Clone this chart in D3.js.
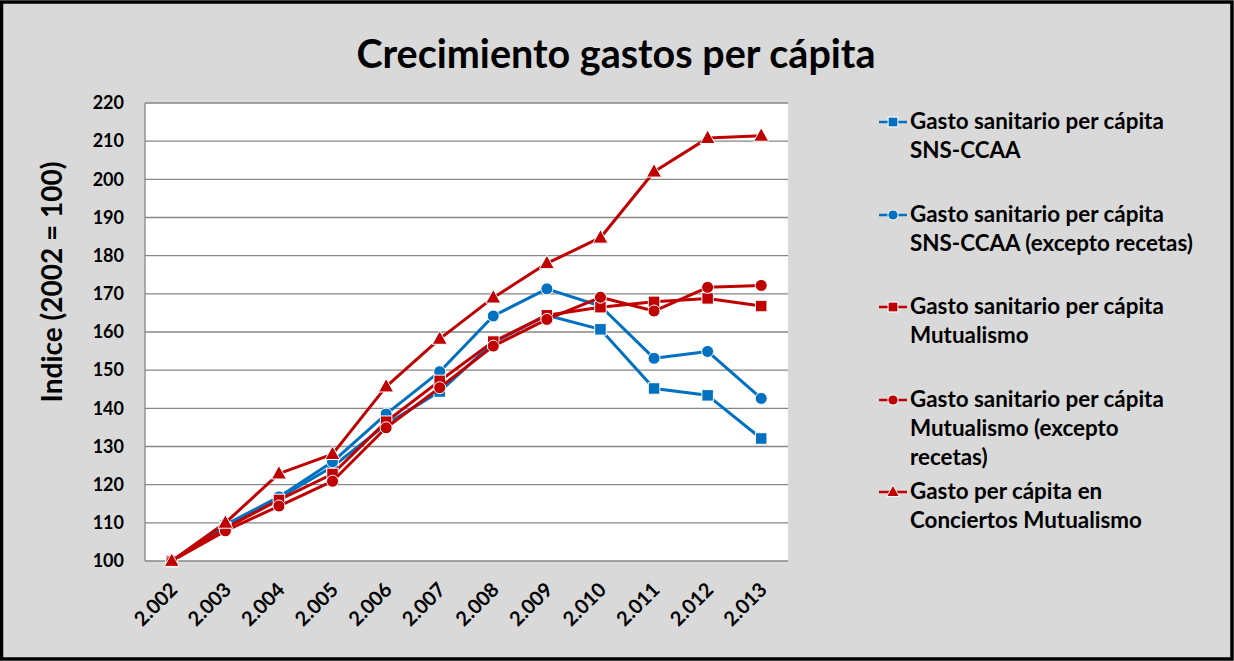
<!DOCTYPE html>
<html><head><meta charset="utf-8">
<script src="https://cdn.jsdelivr.net/npm/d3@7"></script>
<style>html,body{margin:0;padding:0;background:#fff;}svg{display:block;}</style>
</head><body>
<script>
const years = ["2.002","2.003","2.004","2.005","2.006","2.007","2.008","2.009","2.010","2.011","2.012","2.013"];
const snsCcaa       = [100,109.3,116.5,124.7,135.8,144.4,157.2,164.4,160.7,145.2,143.4,132.1];
const snsCcaaSinRec = [100,109.5,116.8,126.0,138.5,149.6,164.2,171.3,166.8,153.1,154.9,142.6];
const mutualismo    = [100,108.6,116.0,122.8,136.5,147.2,157.5,164.4,166.5,167.9,168.8,166.8];
const mutualSinRec  = [100,107.9,114.4,120.9,134.9,145.4,156.3,163.3,169.1,165.5,171.7,172.2];
const conciertos    = [100,110.0,122.9,128.0,145.7,158.2,169.0,178.0,184.7,202.0,210.8,211.4];
const yTicks = [100,110,120,130,140,150,160,170,180,190,200,210,220];
const seriesNames = [
  ["Gasto sanitario per cápita","SNS-CCAA"],
  ["Gasto sanitario per cápita","SNS-CCAA (excepto recetas)"],
  ["Gasto sanitario per cápita","Mutualismo"],
  ["Gasto sanitario per cápita","Mutualismo (excepto","recetas)"],
  ["Gasto per cápita en","Conciertos Mutualismo"]
];
const series = [
  {name: seriesNames[0], values: snsCcaa, color:"#0070C0", shape:"square"},
  {name: seriesNames[1], values: snsCcaaSinRec, color:"#0070C0", shape:"circle"},
  {name: seriesNames[2], values: mutualismo, color:"#C00000", shape:"square"},
  {name: seriesNames[3], values: mutualSinRec, color:"#C00000", shape:"circle"},
  {name: seriesNames[4], values: conciertos, color:"#C00000", shape:"triangle"}
];

const W=1234,H=661;
const FONT="Lato, 'Open Sans', sans-serif";
const svg=d3.select("body").append("svg").attr("width",W).attr("height",H);
svg.append("rect").attr("x",1.5).attr("y",2).attr("width",W-3.5).attr("height",H-4)
  .attr("fill","#D9D9D9").attr("stroke","#000").attr("stroke-width",3.5);

const plot={l:145,r:788,t:103,b:561};
const x=d3.scaleBand().domain(years).range([plot.l,plot.r]);
const y=d3.scaleLinear().domain([100,220]).range([plot.b,plot.t]);

svg.append("rect").attr("x",plot.l).attr("y",plot.t).attr("width",plot.r-plot.l).attr("height",plot.b-plot.t).attr("fill","#fff");

// gridlines
svg.append("g").selectAll("line").data(yTicks).join("line")
  .attr("x1",plot.l).attr("x2",plot.r).attr("y1",d=>y(d)).attr("y2",d=>y(d))
  .attr("stroke","#868686").attr("stroke-width",1.3);
svg.append("line").attr("x1",plot.l).attr("x2",plot.l).attr("y1",plot.t).attr("y2",plot.b)
  .attr("stroke","#868686").attr("stroke-width",1.3);

// y axis
const yAxis=svg.append("g").attr("transform",`translate(${plot.l},0)`)
  .call(d3.axisLeft(y).tickValues(yTicks).tickSize(0).tickPadding(21));
yAxis.select(".domain").remove();
yAxis.selectAll("text").attr("font-family",FONT).attr("font-weight","bold").attr("font-size",18).attr("fill","#000");

// x axis
const xAxis=svg.append("g").attr("transform",`translate(0,${plot.b})`)
  .call(d3.axisBottom(x).tickSize(0));
xAxis.select(".domain").remove();
xAxis.selectAll("text").attr("font-family",FONT).attr("font-weight","bold").attr("font-size",20).attr("fill","#000")
  .attr("text-anchor","end").attr("dy",0).attr("y",0)
  .attr("transform","translate(7,30) rotate(-45)");

// title
svg.append("text").attr("x",616).attr("y",68).attr("text-anchor","middle")
  .attr("font-family",FONT).attr("font-weight","bold").attr("font-size",39.5).attr("fill","#000")
  .text("Crecimiento gastos per cápita");
// y title
svg.append("text").attr("transform","translate(62,282) rotate(-90)").attr("text-anchor","middle")
  .attr("font-family",FONT).attr("font-weight","bold").attr("font-size",28).attr("fill","#000")
  .text("Indice (2002 = 100)");

function drawMarker(g, shape, cx, cy, color, scale){
  scale=scale||1;
  if(shape==="square"){
    const s=11.5*scale;
    g.append("rect").attr("x",cx-s/2).attr("y",cy-s/2).attr("width",s).attr("height",s)
     .attr("fill",color).attr("stroke","#fff").attr("stroke-width",1);
  } else if(shape==="circle"){
    g.append("circle").attr("cx",cx).attr("cy",cy).attr("r",6*scale)
     .attr("fill",color).attr("stroke","#fff").attr("stroke-width",1);
  } else {
    const w=15*scale, h=13.5*scale;
    g.append("path").attr("d",`M${cx},${cy-h*0.6}L${cx+w/2},${cy+h*0.4}L${cx-w/2},${cy+h*0.4}Z`)
     .attr("fill",color).attr("stroke","#fff").attr("stroke-width",1);
  }
}

const line=d3.line().x((d,i)=>x(years[i])+x.bandwidth()/2).y(d=>y(d));
series.forEach(s=>{
  const g=svg.append("g");
  g.append("path").datum(s.values).attr("d",line).attr("fill","none")
   .attr("stroke",s.color).attr("stroke-width",3).attr("stroke-linejoin","round");
  s.values.forEach((v,i)=>drawMarker(g,s.shape,x(years[i])+x.bandwidth()/2,y(v),s.color));
});

// legend
const legendBase=[129,222,314,407,499];
series.forEach((s,k)=>{
  const g=svg.append("g");
  const ly=legendBase[k];
  g.append("line").attr("x1",879).attr("x2",907).attr("y1",ly-7).attr("y2",ly-7)
    .attr("stroke",s.color).attr("stroke-width",2.5);
  drawMarker(g,s.shape,893,ly-7,s.color,0.85);
  s.name.forEach((t,j)=>{
    g.append("text").attr("x",910).attr("y",ly+j*29).attr("font-family",FONT)
     .attr("font-weight","bold").attr("font-size",22.4).attr("fill","#000").text(t);
  });
});
</script>
</body></html>
